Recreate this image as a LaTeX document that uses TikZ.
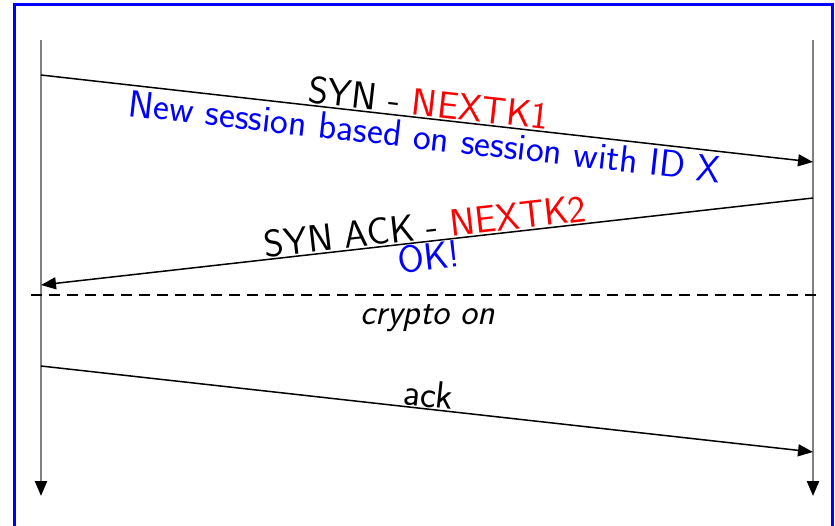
\documentclass[tikz,border=0pt]{standalone}
\usetikzlibrary{arrows.meta}
\begin{document}
\begin{tikzpicture}[x=1pt,y=-1pt,
  lifeline/.style={draw=gray, line width=2.4pt, -{Triangle[length=15pt,width=12pt,fill=black,color=black]}},
  msg/.style={draw=black, line width=1.5pt, -{Triangle[length=15pt,width=12pt]}},
  lbl/.style={font=\fontsize{38}{42}\selectfont\sffamily, sloped, inner sep=1pt},
  frame/.style={draw=blue, line width=3pt}]
\useasboundingbox (0,0) rectangle (835,525);
\draw[frame] (14,4) rectangle (832,560);
% lifelines
\coordinate (Ltop) at (41,40);
\coordinate (Lbot) at (41,496);
\coordinate (Rtop) at (813,40);
\coordinate (Rbot) at (813,496);
\draw[lifeline] (Ltop) -- (Lbot);
\draw[lifeline] (Rtop) -- (Rbot);
% message endpoints
\coordinate (s1) at (41,75);
\coordinate (e1) at (813,162);
\coordinate (s2) at (813,198);
\coordinate (e2) at (41,285);
\coordinate (s3) at (41,366);
\coordinate (e3) at (813,452);
\draw[msg] (s1) -- node[lbl, above] {SYN - \textcolor{red}{NEXTK1}}
                   node[lbl, below=3pt, text=blue] {New session based on session with ID X} (e1);
\draw[msg] (s2) -- node[lbl, above] {SYN ACK - \textcolor{red}{NEXTK2}}
                   node[lbl, below, text=blue] {OK!} (e2);
\coordinate (dl) at (31,295);
\coordinate (dr) at (823,295);
\draw[black, line width=1.6pt, dash pattern=on 11pt off 7pt] (dl) -- (dr);
\node[font=\fontsize{36}{40}\selectfont\sffamily\itshape] (crypto) at (428,318) {crypto on};
\draw[msg] (s3) -- node[lbl, above] {ack} (e3);
\end{tikzpicture}
\end{document}
